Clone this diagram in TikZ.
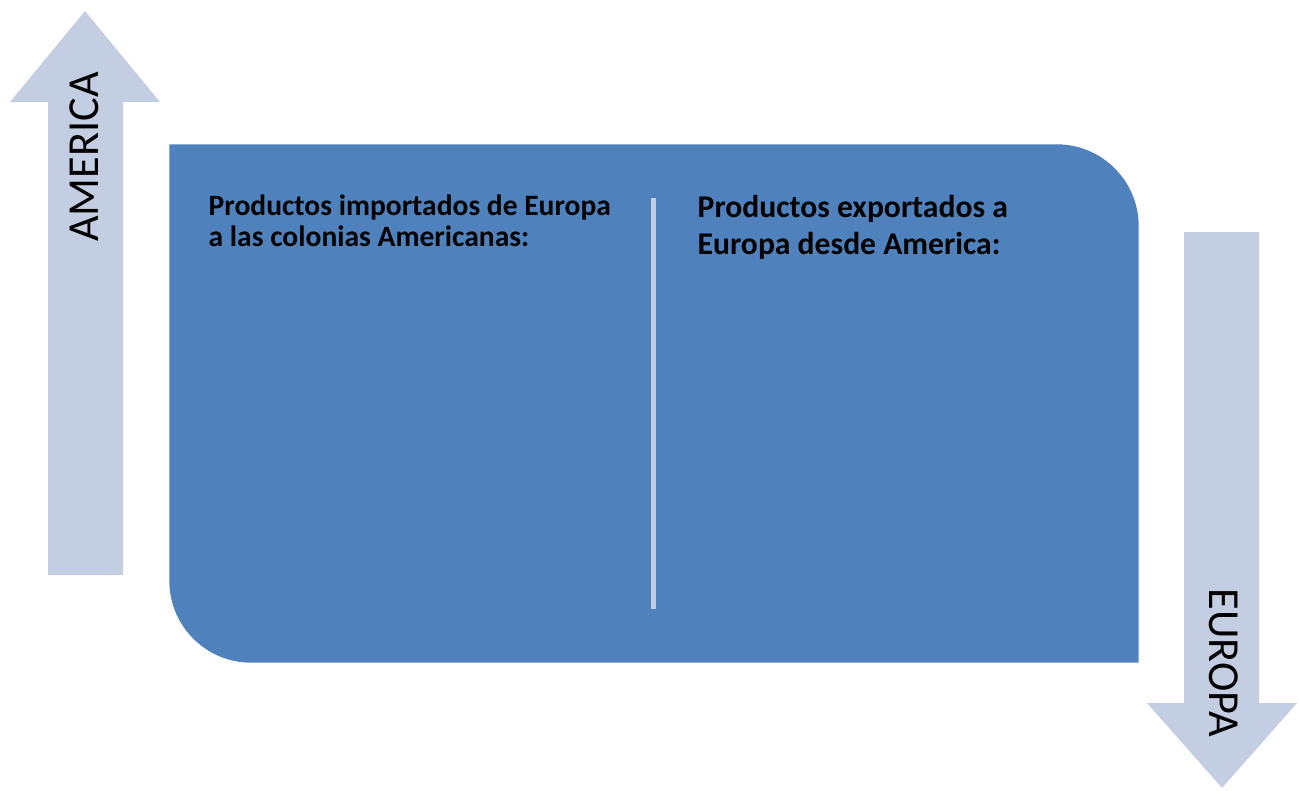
\documentclass[tikz,border=0pt]{standalone}
\usepackage{fontspec}
\setmainfont{Carlito}
\definecolor{azulpanel}{RGB}{79,129,189}
\definecolor{azulclaro}{RGB}{196,206,226}
\tikzstyle{flecha} = [fill=azulclaro, draw=none]
\tikzstyle{rotulo} = [inner sep=0pt, text=black, font=\fontsize{12.6}{15}\selectfont]
\tikzstyle{titulo} = [anchor=base west, inner sep=0pt, align=left, text=black]
\tikzstyle{divisor} = [draw=azulclaro, line width=0.05cm]

\begin{document}
\begin{tikzpicture}
\useasboundingbox (0,0) rectangle (12.99,7.90);

\fill [flecha] (0.85,7.79) -- (1.60,6.88) -- (1.23,6.88) -- (1.23,2.15) -- (0.48,2.15) -- (0.48,6.88) -- (0.10,6.88) -- cycle;
\fill [flecha] (12.22,0.02) -- (12.97,0.87) -- (12.59,0.87) -- (12.59,5.58) -- (11.84,5.58) -- (11.84,0.87) -- (11.47,0.87) -- cycle;

\node (america) [rotulo, rotate=90] at (0.845,6.33) {AMERICA};
\node (europa) [rotulo, rotate=-90] at (12.24,1.27) {EUROPA};

\node (panel) [minimum width=9.68cm, minimum height=5.17cm, inner sep=0pt] at (6.54,3.865) {};
\fill [azulpanel] (panel.north west) -- ([xshift=-0.82cm]panel.north east) arc [start angle=90, end angle=0, radius=0.82cm] -- (panel.south east) -- ([xshift=0.82cm]panel.south west) arc [start angle=270, end angle=180, radius=0.82cm] -- cycle;

\coordinate (div_a) at (6.535,5.92);
\coordinate (div_b) at (6.535,1.81);
\draw [divisor] (div_a) -- (div_b);

\node (importados) [titulo, font=\fontsize{8.4}{8.6}\selectfont\bfseries] at (2.08,5.44) {Productos importados de Europa\\a las colonias Americanas:};
\node (exportados) [titulo, font=\fontsize{9}{10.3}\selectfont\bfseries] at (6.97,5.36) {Productos exportados a\\Europa desde America:};

\end{tikzpicture}
\end{document}
